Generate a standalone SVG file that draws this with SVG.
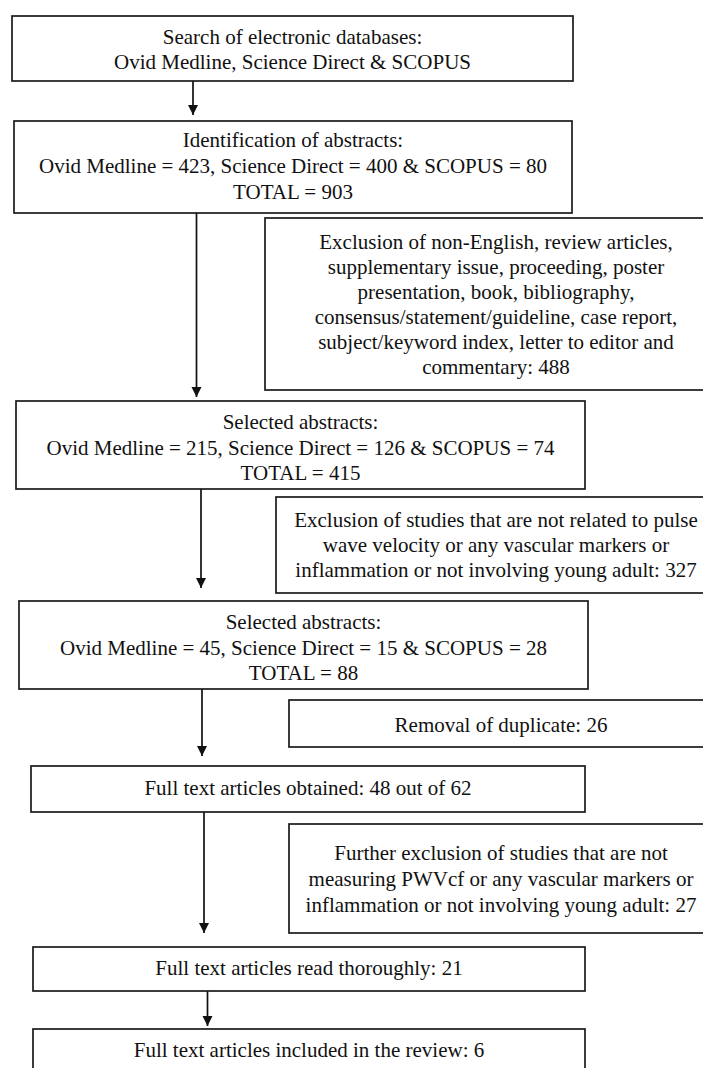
<svg xmlns="http://www.w3.org/2000/svg" width="703" height="1068" viewBox="0 0 703 1068">
<style>
.box{fill:#fff;stroke:#1a1a1a;stroke-width:1.7}
.t{font-family:"Liberation Serif","Times New Roman",serif;font-size:21px;fill:#111;text-anchor:middle}
.c{stroke:#111;stroke-width:1.7;fill:none}
</style>
<defs>
<marker id="ah" viewBox="0 0 10 10" refX="10" refY="5" markerWidth="10" markerHeight="11" markerUnits="userSpaceOnUse" orient="auto">
<path d="M0,0 L10,5 L0,10 z" fill="#111"/>
</marker>
</defs>
<rect width="703" height="1068" fill="#fff"/>
<g id="connectors">
<line class="c" x1="193" y1="81" x2="193" y2="115" marker-end="url(#ah)"/>
<line class="c" x1="196.5" y1="213" x2="196.5" y2="397" marker-end="url(#ah)"/>
<line class="c" x1="201" y1="489" x2="201" y2="588" marker-end="url(#ah)"/>
<line class="c" x1="202" y1="689" x2="202" y2="756" marker-end="url(#ah)"/>
<line class="c" x1="204" y1="812" x2="204" y2="933" marker-end="url(#ah)"/>
<line class="c" x1="207.5" y1="991" x2="207.5" y2="1026" marker-end="url(#ah)"/>
</g>
<g id="search">
<rect class="box" x="12" y="16" width="561" height="65"/>
<text class="t" x="292.5" y="44">Search of electronic databases:</text>
<text class="t" x="292.5" y="69">Ovid Medline, Science Direct &amp; SCOPUS</text>
</g>
<g id="identification">
<rect class="box" x="14" y="121" width="558" height="92"/>
<text class="t" x="293" y="147">Identification of abstracts:</text>
<text class="t" x="293" y="173">Ovid Medline = 423, Science Direct = 400 &amp; SCOPUS = 80</text>
<text class="t" x="293" y="199">TOTAL = 903</text>
</g>
<g id="exclusion1">
<rect class="box" x="265" y="218" width="462" height="172"/>
<text class="t" x="496" y="249">Exclusion of non-English, review articles,</text>
<text class="t" x="496" y="274">supplementary issue, proceeding, poster</text>
<text class="t" x="496" y="299">presentation, book, bibliography,</text>
<text class="t" x="496" y="324">consensus/statement/guideline, case report,</text>
<text class="t" x="496" y="349">subject/keyword index, letter to editor and</text>
<text class="t" x="496" y="374">commentary: 488</text>
</g>
<g id="selected1">
<rect class="box" x="16" y="401" width="569" height="88"/>
<text class="t" x="300.5" y="429">Selected abstracts:</text>
<text class="t" x="300.5" y="455">Ovid Medline = 215, Science Direct = 126 &amp; SCOPUS = 74</text>
<text class="t" x="300.5" y="480">TOTAL = 415</text>
</g>
<g id="exclusion2">
<rect class="box" x="276" y="497" width="440" height="96"/>
<text class="t" x="496" y="527">Exclusion of studies that are not related to pulse</text>
<text class="t" x="496" y="552">wave velocity or any vascular markers or</text>
<text class="t" x="496" y="577">inflammation or not involving young adult: 327</text>
</g>
<g id="selected2">
<rect class="box" x="19" y="601" width="569" height="88"/>
<text class="t" x="303.5" y="629">Selected abstracts:</text>
<text class="t" x="303.5" y="655">Ovid Medline = 45, Science Direct = 15 &amp; SCOPUS = 28</text>
<text class="t" x="303.5" y="680">TOTAL = 88</text>
</g>
<g id="removal">
<rect class="box" x="289" y="700" width="425" height="47"/>
<text class="t" x="501" y="732">Removal of duplicate: 26</text>
</g>
<g id="obtained">
<rect class="box" x="31" y="766" width="554" height="46"/>
<text class="t" x="308" y="795">Full text articles obtained: 48 out of 62</text>
</g>
<g id="exclusion3">
<rect class="box" x="289" y="824" width="425" height="109"/>
<text class="t" x="501" y="860">Further exclusion of studies that are not</text>
<text class="t" x="501" y="886">measuring PWVcf or any vascular markers or</text>
<text class="t" x="501" y="912">inflammation or not involving young adult: 27</text>
</g>
<g id="read">
<rect class="box" x="33" y="947" width="552" height="44"/>
<text class="t" x="309" y="975">Full text articles read thoroughly: 21</text>
</g>
<g id="included">
<rect class="box" x="33" y="1029" width="552" height="44"/>
<text class="t" x="309" y="1057">Full text articles included in the review: 6</text>
</g>
</svg>
